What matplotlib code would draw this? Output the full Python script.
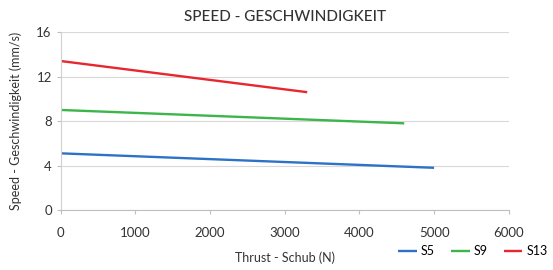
import matplotlib
matplotlib.use("Agg")
import matplotlib.pyplot as plt

plt.rcParams['font.family'] = ['Lato', 'DejaVu Sans']

series = ["S5", "S9", "S13"]
x_s5 = [0, 5000]
y_s5 = [5.1, 3.8]
x_s9 = [0, 4600]
y_s9 = [9.0, 7.8]
x_s13 = [0, 3300]
y_s13 = [13.4, 10.6]
colors = ["#2e72c8", "#3cb54a", "#e8262e"]
xticks = [0, 1000, 2000, 3000, 4000, 5000, 6000]
yticks = [0, 4, 8, 12, 16]

fig = plt.figure(figsize=(5.53, 2.70), dpi=100)
ax = fig.add_axes([0.110, 0.222, 0.810, 0.659])

for xs, ys, c, name in zip([x_s5, x_s9, x_s13], [y_s5, y_s9, y_s13], colors, series):
    ax.plot(xs, ys, color=c, lw=1.7, label=name, solid_capstyle='butt')

ax.set_xlim(0, 6000)
ax.set_ylim(0, 16)
ax.set_xticks(xticks)
ax.set_yticks(yticks)
ax.grid(axis='y', color='#d9d9d9', lw=0.8)
ax.set_axisbelow(True)
for s in ['top', 'right']:
    ax.spines[s].set_visible(False)
ax.spines['left'].set_color('#d0d0d0')
ax.spines['bottom'].set_color('#bfbfbf')
ax.tick_params(axis='both', colors='#bfbfbf', labelcolor='#333333', labelsize=9.5, length=3)
ax.tick_params(axis='x', pad=9)

ax.set_title("SPEED - GESCHWINDIGKEIT", fontsize=11, color='#333333', pad=8, fontweight='medium')
ax.set_xlabel("Thrust - Schub (N)", fontsize=9, color='#333333', labelpad=9)
ax.set_ylabel("Speed - Geschwindigkeit (mm/s)", fontsize=9, color='#333333', labelpad=10)

fig.legend(loc='center', bbox_to_anchor=(0.855, 0.07), ncol=3, frameon=False,
           fontsize=9, handlelength=1.5, handletextpad=0.3, columnspacing=1.3)

fig.savefig("out.png", dpi=100)
